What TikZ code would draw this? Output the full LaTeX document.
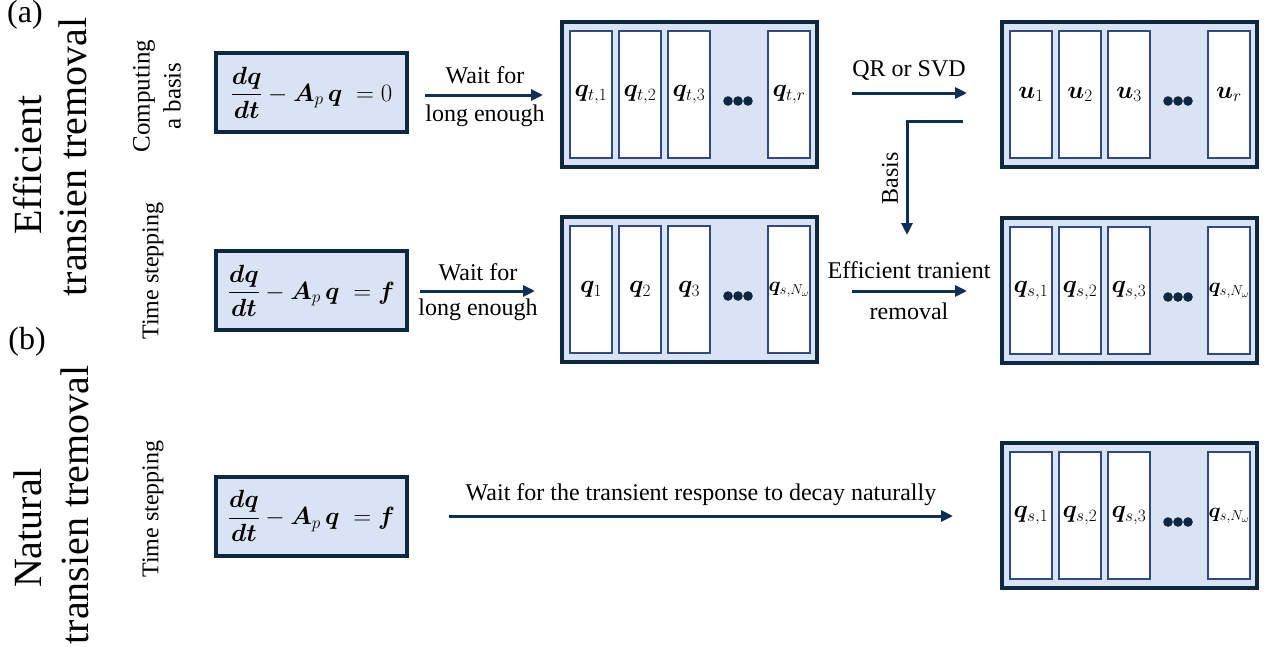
\documentclass[tikz,border=0pt]{standalone}
\usepackage{amsmath}
\usepackage{bm}
\usepackage{fontspec}
\setmainfont{Liberation Serif}
\usetikzlibrary{arrows.meta,calc}
\definecolor{navy}{HTML}{0E2841}
\definecolor{arrnavy}{HTML}{0E2F56}
\definecolor{colnavy}{HTML}{2F4A80}
\definecolor{lightfill}{HTML}{DAE3F3}
\newcommand{\colblock}[7]{%
  \node[bigbox, anchor=north west] (#1) at (#2,#3) {};
  \node[colbox] (#1c1) at ([xshift=8pt,yshift=-9pt]#1.north west) {#4};
  \node[colbox] (#1c2) at ([xshift=57pt,yshift=-9pt]#1.north west) {#5};
  \node[colbox] (#1c3) at ([xshift=106pt,yshift=-9pt]#1.north west) {#6};
  \node[colbox] (#1c4) at ([xshift=206pt,yshift=-9pt]#1.north west) {#7};
  \foreach \dx in {166,176,186}{\fill[navy] ([xshift=\dx pt,yshift=-79pt]#1.north west) circle (4.8pt);}
}
\begin{document}
\begin{tikzpicture}[x=1pt,y=-1pt,
  bigbox/.style={draw=navy, line width=4pt, fill=lightfill, minimum width=255pt, minimum height=145pt, inner sep=0pt, outer sep=0pt},
  colbox/.style={draw=colnavy, line width=1.3pt, fill=white, minimum width=42pt, minimum height=127pt, anchor=north west, inner sep=0pt, outer sep=0pt, font=\fontsize{26}{30}\selectfont},
  eqbox/.style={draw=navy, line width=4pt, fill=lightfill, minimum width=191pt, minimum height=79pt, inner sep=0pt, outer sep=0pt, font=\fontsize{27}{32}\selectfont},
  arr/.style={draw=arrnavy, line width=3pt, -{Triangle[length=12pt,width=11pt]}},
  lbl/.style={font=\fontsize{24}{28}\selectfont, inner sep=0pt},
  side/.style={font=\fontsize{24}{28}\selectfont, rotate=90, align=center, inner sep=0pt},
  big/.style={font=\fontsize{40}{46}\selectfont, rotate=90, inner sep=0pt},
  tag/.style={font=\fontsize{32}{36}\selectfont, inner sep=0pt}]
\useasboundingbox (0,0) rectangle (1268,646);

% left labels
\node[tag] (ta) at (25,15) {(a)};
\node[tag] (tb) at (27,342) {(b)};
\node[big] (ga1) at (28,165) {Efficient};
\node[big] (ga2) at (73,157) {transien tremoval};
\node[big] (gb1) at (28,528) {Natural};
\node[big] (gb2) at (75,505) {transien tremoval};
\node[side, font=\fontsize{25}{31}\selectfont] (s1) at (157,96) {Computing\\a basis};
\node[side] (s2) at (153,271) {Time stepping};
\node[side] (s3) at (153,509) {Time stepping};

% equation boxes
\node[eqbox] (e1) at (311.5,92.5) {$\displaystyle\frac{\bm{dq}}{\bm{dt}}-\bm{A}_p\,\bm{q}\;=0$};
\node[eqbox] (e2) at (311.5,290.5) {$\displaystyle\frac{\bm{dq}}{\bm{dt}}-\bm{A}_p\,\bm{q}\;=\bm{f}$};
\node[eqbox] (e3) at (311.5,516) {$\displaystyle\frac{\bm{dq}}{\bm{dt}}-\bm{A}_p\,\bm{q}\;=\bm{f}$};

% column blocks
\colblock{b1}{562}{22}{$\bm{q}_{t,1}$}{$\bm{q}_{t,2}$}{$\bm{q}_{t,3}$}{$\bm{q}_{t,r}$}
\colblock{b2}{1002}{22}{$\bm{u}_1$}{$\bm{u}_2$}{$\bm{u}_3$}{$\bm{u}_r$}
\colblock{b3}{562}{217}{$\bm{q}_1$}{$\bm{q}_2$}{$\bm{q}_3$}{\fontsize{20}{24}\selectfont$\bm{q}_{s,N_\omega}$}
\colblock{b4}{1002}{218}{$\bm{q}_{s,1}$}{$\bm{q}_{s,2}$}{$\bm{q}_{s,3}$}{\fontsize{20}{24}\selectfont$\bm{q}_{s,N_\omega}$}
\colblock{b5}{1002}{443}{$\bm{q}_{s,1}$}{$\bm{q}_{s,2}$}{$\bm{q}_{s,3}$}{\fontsize{20}{24}\selectfont$\bm{q}_{s,N_\omega}$}

% arrows
\draw[arr] ($(e1.east)+(18,2.5)$) -- ($(b1.west)+(-19,0.5)$);
\node[lbl] (l1a) at (485,75) {Wait for};
\node[lbl] (l1b) at (485,116) {long enough};

\draw[arr] ($(e2.east)+(13,0.5)$) -- ($(b3.west)+(-27,1.5)$);
\node[lbl] (l2a) at (478,272) {Wait for};
\node[lbl] (l2b) at (478,310) {long enough};

\draw[arr] ($(b1.east)+(35,-1.5)$) -- ($(b2.west)+(-35,-1.5)$);
\node[lbl] (l3) at (909,70) {QR or SVD};

\draw[arr] ($(b3.east)+(35,1.5)$) -- ($(b4.west)+(-35,0.5)$);
\node[lbl] (l4a) at (909,270) {Efficient tranient};
\node[lbl] (l4b) at (909,311) {removal};

\coordinate (bs) at ($(b2.west)+(-39,26.5)$);
\coordinate (be) at (907,235);
\draw[arr] (bs) -- (be |- bs) -- (be);
\node[lbl, rotate=90] (l5) at (890,178) {Basis};

\draw[arr] ($(e3.east)+(42,0)$) -- ($(b5.west)+(-49,0.5)$);
\node[lbl] (l6) at (701,495) {Wait for the transient response to decay naturally};
\end{tikzpicture}
\end{document}
